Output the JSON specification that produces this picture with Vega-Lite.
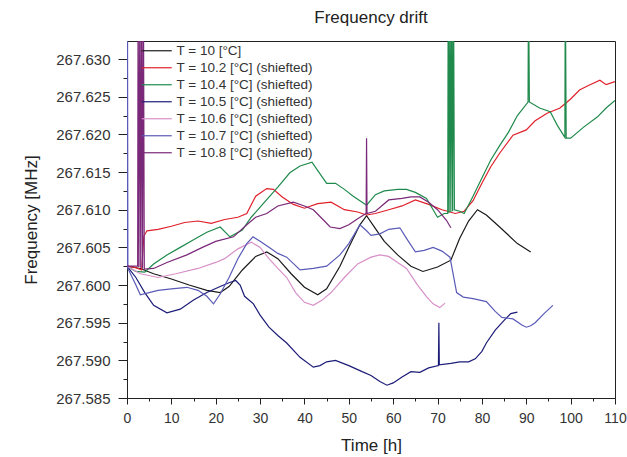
{
  "$schema": "https://vega.github.io/schema/vega-lite/v6.json",
  "width": 488,
  "height": 357,
  "autosize": {"type": "none"},
  "padding": {"left": 127, "top": 41, "right": 12, "bottom": 59},
  "background": "white",
  "config": {
    "font": "Liberation Sans",
    "view": {"stroke": "#222", "strokeWidth": 1}
  },
  "title": {"text": "Frequency drift", "fontSize": 17, "fontWeight": "normal", "color": "#222", "offset": 14, "anchor": "middle"},
  "data": {"values": [
    {"s":"10","t":0,"f":267.6025},{"s":"10","t":3,"f":267.6022},{"s":"10","t":6,"f":267.6015},{"s":"10","t":10,"f":267.6008},{"s":"10","t":14,"f":267.6},{"s":"10","t":18,"f":267.5993},{"s":"10","t":21,"f":267.599},{"s":"10","t":23,"f":267.5998},{"s":"10","t":26,"f":267.602},{"s":"10","t":29,"f":267.6038},{"s":"10","t":31.5,"f":267.6044},{"s":"10","t":34,"f":267.6035},{"s":"10","t":37,"f":267.6015},{"s":"10","t":40,"f":267.5997},{"s":"10","t":43,"f":267.5987},{"s":"10","t":45,"f":267.5995},{"s":"10","t":48,"f":267.6025},{"s":"10","t":50,"f":267.605},{"s":"10","t":52.5,"f":267.608},{"s":"10","t":54,"f":267.6092},{"s":"10","t":56,"f":267.6075},{"s":"10","t":58,"f":267.6058},{"s":"10","t":61,"f":267.604},{"s":"10","t":64,"f":267.6025},{"s":"10","t":66.7,"f":267.6018},{"s":"10","t":70,"f":267.6024},{"s":"10","t":73,"f":267.6033},{"s":"10","t":75,"f":267.6062},{"s":"10","t":77,"f":267.6085},{"s":"10","t":79,"f":267.61},{"s":"10","t":81,"f":267.6093},{"s":"10","t":84,"f":267.6077},{"s":"10","t":88,"f":267.6055},{"s":"10","t":91,"f":267.6044},

    {"s":"10.2","t":0,"f":267.6025},{"s":"10.2","t":2,"f":267.6023},{"s":"10.2","t":3.3,"f":267.602},{"s":"10.2","t":3.8,"f":267.6065},{"s":"10.2","t":4.5,"f":267.6072},{"s":"10.2","t":7,"f":267.6074},{"s":"10.2","t":10,"f":267.6078},{"s":"10.2","t":13,"f":267.6083},{"s":"10.2","t":16,"f":267.6085},{"s":"10.2","t":19,"f":267.6082},{"s":"10.2","t":22,"f":267.6087},{"s":"10.2","t":25,"f":267.609},{"s":"10.2","t":27,"f":267.6095},{"s":"10.2","t":29,"f":267.6118},{"s":"10.2","t":31.5,"f":267.6128},{"s":"10.2","t":33,"f":267.6127},{"s":"10.2","t":35,"f":267.6117},{"s":"10.2","t":37.5,"f":267.6107},{"s":"10.2","t":40,"f":267.6102},{"s":"10.2","t":43,"f":267.6108},{"s":"10.2","t":46,"f":267.611},{"s":"10.2","t":49,"f":267.61},{"s":"10.2","t":52,"f":267.6097},{"s":"10.2","t":54,"f":267.6093},{"s":"10.2","t":56,"f":267.6095},{"s":"10.2","t":59,"f":267.61},{"s":"10.2","t":62,"f":267.6105},{"s":"10.2","t":65,"f":267.6113},{"s":"10.2","t":68,"f":267.6107},{"s":"10.2","t":71,"f":267.61},{"s":"10.2","t":74,"f":267.6095},{"s":"10.2","t":76,"f":267.6098},{"s":"10.2","t":78,"f":267.6112},{"s":"10.2","t":80,"f":267.6135},{"s":"10.2","t":82,"f":267.6157},{"s":"10.2","t":84,"f":267.6175},{"s":"10.2","t":87,"f":267.6199},{"s":"10.2","t":90,"f":267.6206},{"s":"10.2","t":92,"f":267.6218},{"s":"10.2","t":94.7,"f":267.6228},{"s":"10.2","t":97.6,"f":267.6235},{"s":"10.2","t":100,"f":267.6247},{"s":"10.2","t":102,"f":267.6259},{"s":"10.2","t":104,"f":267.6265},{"s":"10.2","t":106.6,"f":267.6272},{"s":"10.2","t":108,"f":267.6266},{"s":"10.2","t":110,"f":267.627},

    {"s":"10.4","t":0,"f":267.6025},{"s":"10.4","t":2,"f":267.6018},{"s":"10.4","t":4,"f":267.6017},{"s":"10.4","t":6,"f":267.6028},{"s":"10.4","t":9,"f":267.604},{"s":"10.4","t":12,"f":267.605},{"s":"10.4","t":15,"f":267.606},{"s":"10.4","t":18,"f":267.607},{"s":"10.4","t":21,"f":267.6077},{"s":"10.4","t":23.2,"f":267.6064},{"s":"10.4","t":26,"f":267.6073},{"s":"10.4","t":28,"f":267.609},{"s":"10.4","t":31,"f":267.611},{"s":"10.4","t":34,"f":267.613},{"s":"10.4","t":36.7,"f":267.6149},{"s":"10.4","t":39,"f":267.6158},{"s":"10.4","t":41.7,"f":267.6163},{"s":"10.4","t":43,"f":267.6152},{"s":"10.4","t":45,"f":267.6135},{"s":"10.4","t":47,"f":267.6135},{"s":"10.4","t":49,"f":267.6127},{"s":"10.4","t":51,"f":267.6118},{"s":"10.4","t":53,"f":267.611},{"s":"10.4","t":54,"f":267.6106},{"s":"10.4","t":56,"f":267.612},{"s":"10.4","t":58,"f":267.6125},{"s":"10.4","t":61,"f":267.6127},{"s":"10.4","t":63,"f":267.6127},{"s":"10.4","t":65,"f":267.6123},{"s":"10.4","t":67.5,"f":267.6115},{"s":"10.4","t":69,"f":267.61},{"s":"10.4","t":70,"f":267.609},{"s":"10.4","t":71.5,"f":267.6095},{"s":"10.4","t":72.3,"f":267.6095},{"s":"10.4","t":72.4,"f":267.64},{"s":"10.4","t":72.6,"f":267.6096},{"s":"10.4","t":72.8,"f":267.64},{"s":"10.4","t":73.0,"f":267.6097},{"s":"10.4","t":73.2,"f":267.64},{"s":"10.4","t":73.4,"f":267.6098},{"s":"10.4","t":73.6,"f":267.64},{"s":"10.4","t":73.8,"f":267.61},{"s":"10.4","t":75,"f":267.6098},{"s":"10.4","t":76,"f":267.6095},{"s":"10.4","t":78,"f":267.6118},{"s":"10.4","t":80,"f":267.6142},{"s":"10.4","t":82,"f":267.6166},{"s":"10.4","t":84,"f":267.6185},{"s":"10.4","t":86,"f":267.6203},{"s":"10.4","t":88,"f":267.6225},{"s":"10.4","t":90.4,"f":267.6243},{"s":"10.4","t":90.5,"f":267.64},{"s":"10.4","t":90.7,"f":267.6243},{"s":"10.4","t":93,"f":267.6235},{"s":"10.4","t":95.4,"f":267.623},{"s":"10.4","t":97,"f":267.6212},{"s":"10.4","t":98.7,"f":267.6196},{"s":"10.4","t":98.8,"f":267.64},{"s":"10.4","t":99,"f":267.6195},{"s":"10.4","t":100,"f":267.6195},{"s":"10.4","t":103,"f":267.621},{"s":"10.4","t":106,"f":267.6223},{"s":"10.4","t":108,"f":267.6235},{"s":"10.4","t":110,"f":267.6245},

    {"s":"10.5","t":0,"f":267.6025},{"s":"10.5","t":2,"f":267.601},{"s":"10.5","t":4,"f":267.599},{"s":"10.5","t":6,"f":267.5973},{"s":"10.5","t":9,"f":267.5963},{"s":"10.5","t":12,"f":267.5968},{"s":"10.5","t":15,"f":267.598},{"s":"10.5","t":18,"f":267.599},{"s":"10.5","t":21,"f":267.5998},{"s":"10.5","t":23,"f":267.6003},{"s":"10.5","t":24.5,"f":267.6006},{"s":"10.5","t":25.5,"f":267.6},{"s":"10.5","t":26.5,"f":267.5985},{"s":"10.5","t":28.5,"f":267.5975},{"s":"10.5","t":30,"f":267.596},{"s":"10.5","t":32,"f":267.5944},{"s":"10.5","t":34,"f":267.5933},{"s":"10.5","t":36,"f":267.5923},{"s":"10.5","t":39,"f":267.5904},{"s":"10.5","t":42,"f":267.5891},{"s":"10.5","t":43.5,"f":267.5893},{"s":"10.5","t":45,"f":267.5898},{"s":"10.5","t":47,"f":267.59},{"s":"10.5","t":50,"f":267.5893},{"s":"10.5","t":53,"f":267.5885},{"s":"10.5","t":55,"f":267.588},{"s":"10.5","t":57,"f":267.5872},{"s":"10.5","t":58.6,"f":267.5867},{"s":"10.5","t":60,"f":267.587},{"s":"10.5","t":62,"f":267.5878},{"s":"10.5","t":64,"f":267.5885},{"s":"10.5","t":66,"f":267.5884},{"s":"10.5","t":68,"f":267.589},{"s":"10.5","t":70.2,"f":267.5893},{"s":"10.5","t":70.3,"f":267.595},{"s":"10.5","t":70.4,"f":267.5894},{"s":"10.5","t":73,"f":267.5896},{"s":"10.5","t":75,"f":267.5898},{"s":"10.5","t":77,"f":267.5898},{"s":"10.5","t":78.5,"f":267.5902},{"s":"10.5","t":80,"f":267.5912},{"s":"10.5","t":81,"f":267.5923},{"s":"10.5","t":83,"f":267.594},{"s":"10.5","t":85,"f":267.5953},{"s":"10.5","t":86.5,"f":267.5962},{"s":"10.5","t":88,"f":267.5964},

    {"s":"10.6","t":0,"f":267.6025},{"s":"10.6","t":3,"f":267.6015},{"s":"10.6","t":7,"f":267.601},{"s":"10.6","t":11,"f":267.6015},{"s":"10.6","t":16,"f":267.6022},{"s":"10.6","t":20,"f":267.603},{"s":"10.6","t":22,"f":267.6035},{"s":"10.6","t":25,"f":267.6048},{"s":"10.6","t":28,"f":267.6057},{"s":"10.6","t":30,"f":267.605},{"s":"10.6","t":32,"f":267.6035},{"s":"10.6","t":34,"f":267.6022},{"s":"10.6","t":36,"f":267.601},{"s":"10.6","t":38,"f":267.599},{"s":"10.6","t":40,"f":267.5977},{"s":"10.6","t":42,"f":267.5973},{"s":"10.6","t":44,"f":267.598},{"s":"10.6","t":46,"f":267.599},{"s":"10.6","t":49,"f":267.601},{"s":"10.6","t":52,"f":267.6028},{"s":"10.6","t":55,"f":267.6037},{"s":"10.6","t":57,"f":267.604},{"s":"10.6","t":59,"f":267.6038},{"s":"10.6","t":61,"f":267.603},{"s":"10.6","t":63,"f":267.6022},{"s":"10.6","t":65.5,"f":267.6},{"s":"10.6","t":67.6,"f":267.5984},{"s":"10.6","t":69,"f":267.5975},{"s":"10.6","t":70.5,"f":267.597},{"s":"10.6","t":71.7,"f":267.5976},

    {"s":"10.7","t":0,"f":267.6025},{"s":"10.7","t":0.1,"f":267.64},{"s":"10.7","t":0.2,"f":267.6022},{"s":"10.7","t":2,"f":267.6},{"s":"10.7","t":3,"f":267.5987},{"s":"10.7","t":5,"f":267.599},{"s":"10.7","t":7,"f":267.5993},{"s":"10.7","t":10,"f":267.5995},{"s":"10.7","t":13.5,"f":267.5997},{"s":"10.7","t":16,"f":267.5993},{"s":"10.7","t":18,"f":267.5985},{"s":"10.7","t":19.5,"f":267.5975},{"s":"10.7","t":21,"f":267.5988},{"s":"10.7","t":23,"f":267.601},{"s":"10.7","t":25,"f":267.6035},{"s":"10.7","t":27,"f":267.6055},{"s":"10.7","t":28.4,"f":267.6064},{"s":"10.7","t":30,"f":267.6058},{"s":"10.7","t":32,"f":267.605},{"s":"10.7","t":34,"f":267.6042},{"s":"10.7","t":36,"f":267.6037},{"s":"10.7","t":39,"f":267.602},{"s":"10.7","t":42,"f":267.6022},{"s":"10.7","t":45,"f":267.6025},{"s":"10.7","t":48,"f":267.604},{"s":"10.7","t":50,"f":267.6055},{"s":"10.7","t":52.5,"f":267.608},{"s":"10.7","t":54,"f":267.6072},{"s":"10.7","t":55,"f":267.6066},{"s":"10.7","t":57,"f":267.6068},{"s":"10.7","t":59,"f":267.6074},{"s":"10.7","t":61.5,"f":267.6076},{"s":"10.7","t":63,"f":267.6062},{"s":"10.7","t":65,"f":267.6044},{"s":"10.7","t":67,"f":267.6046},{"s":"10.7","t":69,"f":267.605},{"s":"10.7","t":71,"f":267.6045},{"s":"10.7","t":72.8,"f":267.6037},{"s":"10.7","t":74.3,"f":267.599},{"s":"10.7","t":75.8,"f":267.5984},{"s":"10.7","t":78,"f":267.5982},{"s":"10.7","t":81,"f":267.5978},{"s":"10.7","t":83,"f":267.5965},{"s":"10.7","t":84.5,"f":267.5957},{"s":"10.7","t":87,"f":267.5955},{"s":"10.7","t":89,"f":267.5947},{"s":"10.7","t":90,"f":267.5944},{"s":"10.7","t":91,"f":267.5946},{"s":"10.7","t":92,"f":267.595},{"s":"10.7","t":94,"f":267.5962},{"s":"10.7","t":96,"f":267.5973},

    {"s":"10.8","t":0,"f":267.6025},{"s":"10.8","t":2.4,"f":267.6025},{"s":"10.8","t":2.5,"f":267.64},{"s":"10.8","t":2.7,"f":267.6024},{"s":"10.8","t":2.9,"f":267.64},{"s":"10.8","t":3.1,"f":267.6023},{"s":"10.8","t":3.3,"f":267.64},{"s":"10.8","t":3.5,"f":267.6022},{"s":"10.8","t":3.7,"f":267.64},{"s":"10.8","t":3.9,"f":267.6021},{"s":"10.8","t":6,"f":267.6022},{"s":"10.8","t":9,"f":267.603},{"s":"10.8","t":13.5,"f":267.604},{"s":"10.8","t":17,"f":267.605},{"s":"10.8","t":20,"f":267.6058},{"s":"10.8","t":24,"f":267.6064},{"s":"10.8","t":27,"f":267.608},{"s":"10.8","t":29,"f":267.609},{"s":"10.8","t":31.5,"f":267.6095},{"s":"10.8","t":34,"f":267.6105},{"s":"10.8","t":37.5,"f":267.611},{"s":"10.8","t":40,"f":267.6105},{"s":"10.8","t":42,"f":267.61},{"s":"10.8","t":44,"f":267.6088},{"s":"10.8","t":45.8,"f":267.6077},{"s":"10.8","t":48,"f":267.6075},{"s":"10.8","t":50,"f":267.608},{"s":"10.8","t":52,"f":267.6088},{"s":"10.8","t":53.9,"f":267.6095},{"s":"10.8","t":54,"f":267.6195},{"s":"10.8","t":54.1,"f":267.6095},{"s":"10.8","t":56,"f":267.6098},{"s":"10.8","t":59,"f":267.6113},{"s":"10.8","t":62,"f":267.6115},{"s":"10.8","t":64,"f":267.6117},{"s":"10.8","t":66,"f":267.6117},{"s":"10.8","t":68,"f":267.611},{"s":"10.8","t":70,"f":267.61},{"s":"10.8","t":72,"f":267.6086},{"s":"10.8","t":73,"f":267.6076}
  ]},
  "mark": {"type": "line", "clip": true, "strokeWidth": 1.2},
  "encoding": {
    "x": {
      "field": "t", "type": "quantitative",
      "scale": {"domain": [0, 110], "nice": false},
      "axis": {
        "title": "Time [h]", "titleFontSize": 17, "titleFontWeight": "normal", "titleColor": "#222", "titlePadding": 12,
        "values": [0,5,10,15,20,25,30,35,40,45,50,55,60,65,70,75,80,85,90,95,100,105,110],
        "labelExpr": "datum.value % 10 == 0 ? datum.label : ''",
        "tickSize": {"condition": {"test": "datum.value % 10 == 0", "value": 6}, "value": 3},
        "labelFontSize": 14, "labelColor": "#333", "labelPadding": 7,
        "grid": false, "domainColor": "#222", "tickColor": "#222", "labelFlush": false
      }
    },
    "y": {
      "field": "f", "type": "quantitative",
      "scale": {"domain": [267.585, 267.6324], "nice": false, "zero": false},
      "axis": {
        "title": "Frequency [MHz]", "titleFontSize": 17, "titleFontWeight": "normal", "titleColor": "#222", "titlePadding": 15,
        "values": [267.585,267.5875,267.59,267.5925,267.595,267.5975,267.6,267.6025,267.605,267.6075,267.61,267.6125,267.615,267.6175,267.62,267.6225,267.625,267.6275,267.63],
        "labelExpr": "abs(datum.value*200 - round(datum.value*200)) < 0.01 ? format(datum.value, '.3f') : ''",
        "tickSize": {"condition": {"test": "abs(datum.value*200 - round(datum.value*200)) < 0.01", "value": 9}, "value": 4},
        "labelFontSize": 15, "labelColor": "#333", "labelPadding": 8,
        "grid": false, "domainColor": "#222", "tickColor": "#222", "labelFlush": false
      }
    },
    "color": {
      "field": "s", "type": "nominal",
      "scale": {"domain": ["10","10.2","10.4","10.5","10.6","10.7","10.8"], "range": ["#1a1a1a","#e0202a","#1f8a4c","#1c1c78","#d890c8","#5a5ab8","#7a2878"]},
      "legend": {
        "title": null, "orient": "none", "legendX": 13, "legendY": 3,
        "symbolType": "M-1,0L5,0", "symbolSize": 100, "symbolStrokeWidth": 1.2,
        "labelFontSize": 13.5, "labelColor": "#333", "labelOffset": 23, "rowPadding": 2,
        "labelExpr": "datum.label == '10' ? 'T = 10 [°C]' : 'T = ' + datum.label + ' [°C] (shiefted)'"
      }
    }
  }
}
